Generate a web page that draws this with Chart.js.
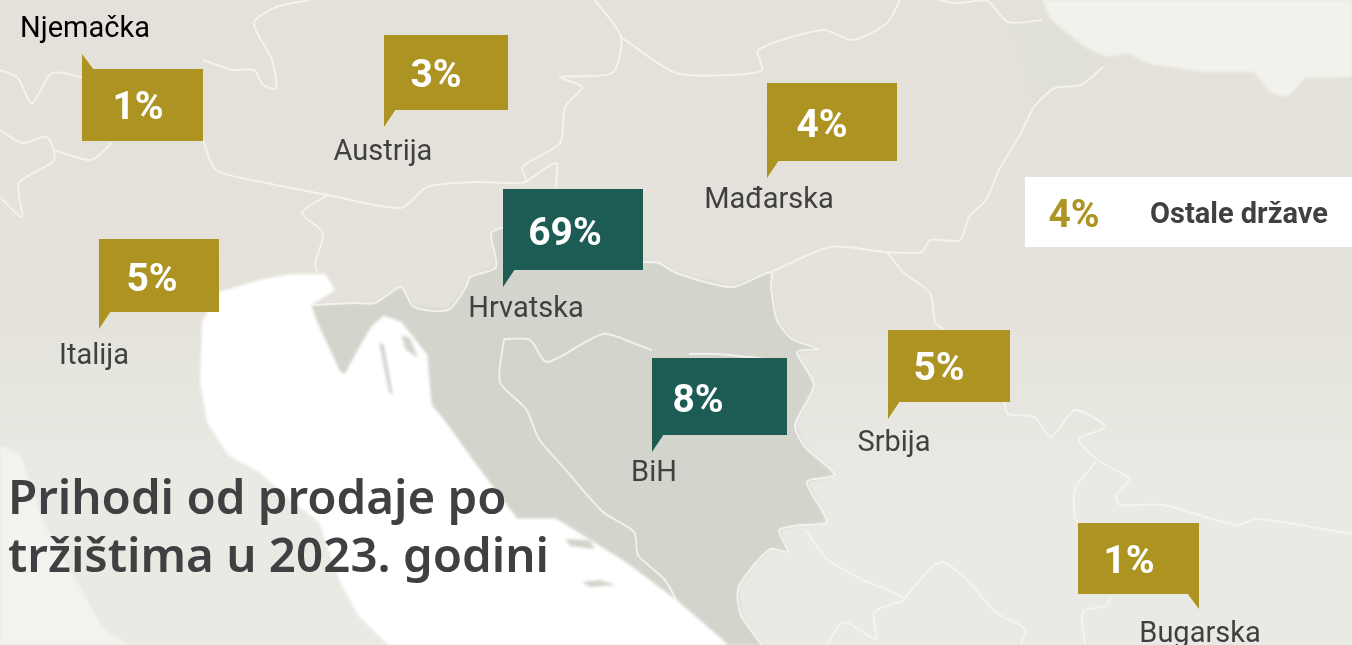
<!DOCTYPE html>
<html>
<head>
<meta charset="utf-8">
<title>Prihodi od prodaje po tržištima</title>
<script src="https://cdn.jsdelivr.net/npm/chart.js@4"></script>
<style>
  html, body { margin: 0; padding: 0; background: #fff; overflow: hidden; }
  canvas { display: block; }
</style>
</head>
<body>
<canvas id="map" width="1352" height="645"></canvas>
<script>
// data
const countries = ['Njemačka', 'Austrija', 'Mađarska', 'Hrvatska', 'Italija', 'BiH', 'Srbija', 'Bugarska'];
const shares = [1, 3, 4, 69, 5, 8, 5, 1];
const otherLabel = 'Ostale države';
const otherShare = 4;
const titleLines = ['Prihodi od prodaje po', 'tržištima u 2023. godini'];

// callout layout, in picture coordinates
const boxLeft = [82, 384, 767, 503, 99, 652, 888, 1078];
const boxTop = [69, 35, 83, 189, 239, 358, 330, 523];
const boxWidth = [121, 124, 130, 140, 120, 135, 122, 121];
const boxHeight = [72, 75, 78, 81, 73, 77, 72, 71];
const tailSide = ['top', 'bottom', 'bottom', 'bottom', 'bottom', 'bottom', 'bottom', 'right'];
const valueX = [138, 436, 822, 565, 152, 698, 939, 1129];
const valueY = [109, 77, 127, 235, 281, 402, 370, 563];
const labelX = [85, 383, 769, 526, 94, 654, 894, 1200];
const labelY = [30, 153, 201, 310, 357, 474, 444, 635];
const boxColor = ['#ad9322', '#ad9322', '#ad9322', '#1d5c54', '#ad9322', '#1d5c54', '#ad9322', '#ad9322'];

// map shapes
const sea = [[219,292],[260,280],[290,274],[325,274],[335,290],[315,303],[311,305],[317,322],[340,372],[345,374],[358,350],[372,326],[384,316],[401,322],[427,355],[431,402],[474,462],[517,519],[556,519],[625,562],[676,600],[728,645],[388,645],[358,615],[340,582],[319,522],[293,502],[259,472],[228,455],[207,422],[200,382],[202,322]];
const westCoast = [[0,445],[21,455],[43,522],[73,575],[103,628],[129,645],[0,645]];
const northEast = [[1042,0],[1051,20],[1085,47],[1107,57],[1129,53],[1146,63],[1202,72],[1254,72],[1271,93],[1288,97],[1305,78],[1352,77],[1352,0]];
const ukraine = [[1008,22],[1051,20],[1085,47],[1103,62],[1081,85],[1055,88],[1034,107],[1020,60]];
const croatiaBih = [[311,305],[353,303],[375,303],[401,287],[414,307],[448,310],[466,287],[470,277],[496,267],[491,233],[504,227],[642,262],[659,263],[676,273],[732,287],[771,272],[771,287],[777,320],[792,339],[818,349],[797,352],[814,385],[795,425],[805,447],[835,475],[807,482],[827,522],[801,525],[779,530],[788,552],[771,549],[754,565],[738,589],[741,615],[762,645],[728,645],[676,600],[625,562],[556,519],[517,519],[474,462],[431,402],[427,355],[401,322],[384,316],[372,326],[358,350],[345,374],[340,372],[317,322]];
const islands = [
  [[379,342],[384,345],[393,395],[389,392]],
  [[401,335],[410,338],[418,358],[406,350]],
  [[431,405],[436,405],[487,449],[480,449]],
  [[565,539],[590,540],[595,549],[570,546]],
  [[582,582],[600,580],[616,585],[590,587]]
];

const borders = [
  [[0,70],[17,77],[32,103],[52,73],[82,77]],
  [[203,60],[233,70],[254,70],[263,85],[276,88],[272,60],[254,23],[276,7],[310,0]],
  [[0,130],[22,143],[47,137],[54,160],[19,183],[22,217],[0,197]],
  [[54,150],[91,160],[112,143]],
  [[203,140],[216,170],[267,183],[328,195],[401,208],[427,187],[474,182],[526,182],[522,167],[560,143],[565,107],[582,87],[560,77],[612,73],[621,37],[595,0]],
  [[328,195],[302,213],[323,233],[315,263],[317,272]],
  [[526,182],[556,163],[556,187]],
  [[621,37],[676,73],[728,75],[762,70],[758,50],[823,30],[853,40],[887,23],[900,0]],
  [[939,0],[956,3],[986,0],[1008,22],[1042,20]],
  [[1103,67],[1081,85],[1055,88],[1034,107],[1021,133],[999,170],[986,200],[969,217],[960,240],[930,240],[922,252],[887,252],[831,247],[771,272]],
  [[887,252],[904,273],[930,293],[935,322],[943,329]],
  [[1004,402],[1008,414],[1034,417],[1051,437],[1075,410],[1105,427],[1079,439],[1096,459],[1129,479],[1116,495],[1120,505],[1163,505],[1236,525],[1258,519],[1323,529],[1352,534]],
  [[1096,462],[1075,489],[1075,519],[1079,523]],
  [[1111,595],[1107,605],[1083,612],[1085,645]],
  [[805,529],[827,559],[861,579],[904,599],[874,612],[876,639],[844,622],[827,645]],
  [[904,599],[930,569],[943,562],[969,582],[995,612],[1025,629],[1021,645]],
  [[504,339],[530,340],[547,362],[603,334],[638,345],[652,350]],
  [[504,339],[500,382],[526,409],[539,439],[565,469],[603,512],[634,532],[638,555],[664,579],[676,599]],
  [[689,354],[715,354],[749,357],[787,362]],
  [[311,305],[353,303],[375,303],[401,287],[414,307],[448,310],[466,287],[470,277],[496,267],[491,233],[504,227]],
  [[642,262],[659,263],[676,273],[732,287],[771,272],[771,287],[777,320],[792,339],[818,349],[797,352],[814,385],[795,425],[805,447],[835,475],[807,482],[827,522],[801,525],[779,530],[788,552],[771,549],[754,565],[738,589],[741,615],[762,645]]
];

const toPoints = (line) => line.map(([x, y]) => ({ x, y }));

function fillShape(chart, shape, color) {
  const { ctx, scales } = chart;
  ctx.beginPath();
  shape.forEach(([x, y], i) => {
    const px = scales.x.getPixelForValue(x);
    const py = scales.y.getPixelForValue(y);
    if (i === 0) ctx.moveTo(px, py);
    else ctx.lineTo(px, py);
  });
  ctx.closePath();
  ctx.fillStyle = color;
  ctx.fill();
}

const mapBackground = {
  id: 'mapBackground',
  beforeDatasetsDraw(chart) {
    const { ctx, width, height } = chart;
    const land = ctx.createLinearGradient(0, 0, 0, height);
    land.addColorStop(0, '#e4e1da');
    land.addColorStop(0.5, '#e4e2db');
    land.addColorStop(0.75, '#e9eae4');
    land.addColorStop(1, '#e9eae4');
    ctx.fillStyle = land;
    ctx.fillRect(0, 0, width, height);
    // soft edges, the original map is a blurred raster
    ctx.filter = 'blur(1.5px)';
    fillShape(chart, ukraine, '#e0e0d9');
    fillShape(chart, northEast, '#f2f2ec');
    fillShape(chart, westCoast, '#f2f2ee');
    fillShape(chart, croatiaBih, '#d3d4cc');
    fillShape(chart, sea, '#ffffff');
    islands.forEach((island) => fillShape(chart, island, '#d3d4cc'));
    ctx.filter = 'blur(0.6px)';
  }
};

function drawText(ctx, text, x, y, font, color, align) {
  ctx.font = font;
  ctx.fillStyle = color;
  ctx.textAlign = align;
  ctx.textBaseline = 'middle';
  ctx.fillText(text, x, y);
}

const callouts = {
  id: 'callouts',
  afterDatasetsDraw(chart) {
    const { ctx, scales } = chart;
    const meta = chart.getDatasetMeta(borders.length);
    ctx.filter = 'none';
    ctx.save();
    meta.data.forEach((point, i) => {
      const l = point.x;
      const t = point.y;
      const r = l + boxWidth[i];
      const b = t + boxHeight[i];
      ctx.fillStyle = boxColor[i];
      ctx.fillRect(l, t, boxWidth[i], boxHeight[i]);
      ctx.beginPath();
      if (tailSide[i] === 'top') {
        ctx.moveTo(l, t + 1); ctx.lineTo(l, t - 15); ctx.lineTo(l + 12, t + 1);
      } else if (tailSide[i] === 'right') {
        ctx.moveTo(r, b - 1); ctx.lineTo(r, b + 15); ctx.lineTo(r - 12, b - 1);
      } else {
        ctx.moveTo(l, b - 1); ctx.lineTo(l, b + 17); ctx.lineTo(l + 12, b - 1);
      }
      ctx.closePath();
      ctx.fill();
      drawText(ctx, shares[i] + '%', scales.x.getPixelForValue(valueX[i]), scales.y.getPixelForValue(valueY[i]),
        '700 39px Roboto', '#ffffff', 'center');
      drawText(ctx, countries[i], scales.x.getPixelForValue(labelX[i]), scales.y.getPixelForValue(labelY[i]),
        '400 29px Roboto', i === 0 ? '#000000' : '#404042', 'center');
    });

    // the "other countries" strip
    ctx.fillStyle = '#ffffff';
    ctx.fillRect(scales.x.getPixelForValue(1025), scales.y.getPixelForValue(177), 327, 70);
    drawText(ctx, otherShare + '%', scales.x.getPixelForValue(1074), scales.y.getPixelForValue(217),
      '700 39px Roboto', '#ad9322', 'center');
    drawText(ctx, otherLabel, scales.x.getPixelForValue(1150), scales.y.getPixelForValue(216),
      '700 29px Roboto', '#404042', 'left');

    drawText(ctx, titleLines[0], scales.x.getPixelForValue(8), scales.y.getPixelForValue(500),
      '600 47.5px "Noto Sans"', '#404042', 'left');
    drawText(ctx, titleLines[1], scales.x.getPixelForValue(8), scales.y.getPixelForValue(558),
      '600 47.5px "Noto Sans"', '#404042', 'left');
    ctx.restore();
  }
};

const borderSets = borders.map((line) => ({
  data: toPoints(line),
  showLine: true,
  borderColor: 'rgba(246,245,240,0.85)',
  borderWidth: 2,
  tension: 0.25,
  pointRadius: 0,
  fill: false
}));

new Chart(document.getElementById('map'), {
  type: 'scatter',
  data: {
    datasets: [
      ...borderSets,
      {
        label: 'Udio u prihodima',
        data: boxLeft.map((x, i) => ({ x, y: boxTop[i] })),
        pointRadius: 0
      }
    ]
  },
  options: {
    responsive: false,
    animation: false,
    layout: { padding: 0 },
    plugins: { legend: { display: false }, tooltip: { enabled: false } },
    scales: {
      x: { type: 'linear', display: false, min: 0, max: 1352 },
      y: { type: 'linear', display: false, min: 0, max: 645, reverse: true }
    }
  },
  plugins: [mapBackground, callouts]
});
</script>
</body>
</html>
